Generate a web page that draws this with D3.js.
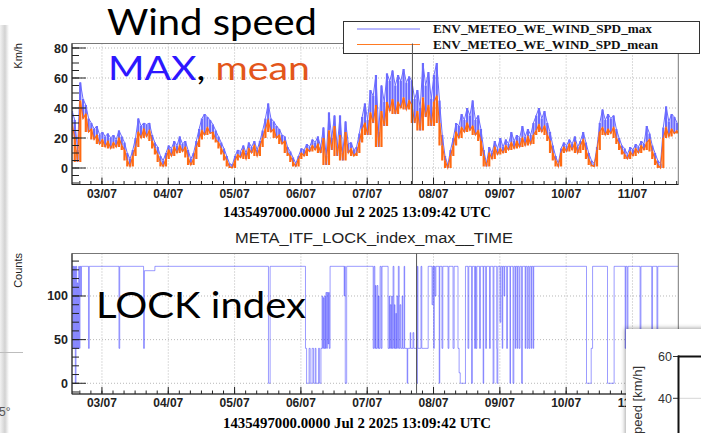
<!DOCTYPE html>
<html><head><meta charset="utf-8">
<script src="https://cdn.jsdelivr.net/npm/d3@7"></script>
<style>html,body{margin:0;padding:0;background:#fff;overflow:hidden}svg{display:block}</style>
</head><body>
<svg id="c" width="701" height="433"></svg>
<script>
// ---------------- DATA ----------------
// hourly samples from 2025-07-02 13:09:42 UTC (hour index 0..219)
const windMax = [
 38,32,12,57,46,42,33,30,26,28,22,24,
 21,23,20,22,19,25,21,17,10,6,12,20,
 33,28,30,29,30,22,17,14,8,5,10,15,
 13,18,15,21,16,18,12,6,10,18,26,33,
 36,34,32,29,25,21,17,13,8,3,2,8,
 12,11,15,10,17,14,18,12,18,25,33,43,
 33,31,28,26,22,21,14,11,7,3,8,13,
 12,16,14,19,17,21,14,27,8,37,20,35,
 14,35,10,31,16,17,12,14,23,34,43,32,
 52,48,62,24,55,44,63,58,65,55,62,58,
 66,57,61,58,46,52,40,70,55,64,46,62,
 70,45,22,8,2,12,20,30,28,36,32,40,
 35,45,32,35,26,12,3,14,10,18,13,20,
 14,19,16,24,18,22,20,28,21,26,22,30,
 35,40,33,38,30,24,15,8,3,13,17,15,
 19,16,21,14,18,24,17,10,5,3,14,30,
 39,32,36,33,35,26,20,15,13,9,14,12,
 16,14,18,16,28,23,15,10,5,3,27,41,
 31,36,34,30];
const windMean = [
 30,20,4,45,33,36,24,26,19,22,16,19,
 14,18,13,17,14,20,15,12,5,1,8,14,
 24,20,26,21,25,18,13,9,4,1,6,12,
 8,14,10,15,11,14,7,2,6,14,19,25,
 22,27,23,24,19,17,13,9,5,1,0,5,
 9,7,12,6,13,10,15,8,14,20,26,32,
 24,26,20,22,16,18,10,8,4,1,6,10,
 8,13,11,15,12,16,10,20,2,25,12,28,
 8,22,5,24,10,13,8,10,17,26,30,22,
 37,30,42,14,38,28,44,38,46,36,44,40,
 47,39,45,42,30,38,25,47,34,42,28,44,
 48,30,15,5,0,8,15,24,20,27,24,30,
 25,28,22,25,18,8,1,10,6,14,9,13,
 10,15,12,17,13,18,14,20,15,21,16,22,
 25,29,24,28,22,18,10,5,1,10,14,11,
 16,12,17,10,15,19,12,6,2,1,12,24,
 27,22,26,23,27,20,16,12,9,6,11,8,
 13,10,15,12,17,19,11,6,2,0,20,27,
 21,26,23,25];

// LOCK index step changes: hours since start, value
const lockHours = [0,0.25,0.47,0.72,0.98,1.19,1.45,1.70,1.92,2.17,2.43,2.64,2.90,3.15,3.44,5.97,6.26,17.0,17.27,25.9,26.2,30.0,71.1,71.7,
 84.5,84.9,85.8,86.2,86.9,87.4,88.0,88.3,89.2,89.6,90.1,90.5,90.75,90.97,91.2,91.5,91.7,91.9,92.2,92.4,92.7,92.9,93.1,93.4,
 98.5,98.7,98.9,99.4,109.0,109.3,109.6,109.8,110.0,110.4,110.7,110.9,111.1,111.5,111.9,112.2,114.4,114.8,115.0,115.2,115.5,115.7,115.9,
 116.2,116.5,116.7,116.9,117.2,117.4,117.6,117.9,118.1,118.4,118.7,119.0,119.5,119.7,120.2,120.4,121.3,121.5,122.4,122.6,123.4,123.7,
 124.7,125.0,125.2,126.3,126.6,128.9,130.3,130.6,130.9,131.1,131.4,131.7,132.9,133.1,133.9,134.2,136.1,136.4,137.9,138.3,139.7,140.1,140.5,
 142.4,143.3,143.6,144.6,144.9,145.7,146.0,146.2,146.5,147.5,147.8,148.8,149.0,149.7,150.0,151.1,151.4,152.4,152.7,153.7,153.8,154.1,
 154.9,155.2,155.7,155.9,156.4,156.6,157.3,157.6,158.5,158.7,159.6,159.9,160.4,160.6,161.1,161.3,161.8,162.1,162.7,163.0,164.0,164.2,
 164.7,165.0,165.4,165.7,166.2,166.4,166.9,167.1,186.2,187.9,188.4,193.8,196.2,200.2,200.4,200.9,201.2,205.6,205.9,209.8,210.1,211.7,212.0,219.4];
const lockValues = [134,40,134,40,134,0,134,40,115,40,134,40,134,100,134,40,134,40,134,40,129,134,0,134,
 40,0,40,0,40,0,40,0,40,0,40,100,40,98,40,100,40,104,40,104,45,104,40,134,
 100,134,0,134,40,134,40,112,40,112,40,100,40,134,40,134,40,100,40,90,40,100,40,
 134,40,90,40,80,40,100,40,134,40,90,40,100,40,134,40,0,40,58,40,58,40,
 0,134,40,134,40,134,90,134,40,134,100,134,0,134,40,134,40,134,40,134,40,12,0,
 134,40,134,0,134,40,134,40,134,40,134,0,134,40,134,40,134,0,134,40,0,134,
 70,134,40,134,100,134,40,134,0,134,0,134,40,134,40,134,40,134,0,134,40,134,
 40,134,40,134,40,134,40,134,0,40,134,0,134,40,134,40,134,40,134,40,134,50,134,134];

const cursorTopHour = 123.2, cursorBottomHour = 124.7;
const windTicks = [0,20,40,60,80];
const lockTicks = [0,50,100];
const insetTicks = [40,60];
const axisTitle = "1435497000.0000 Jul 2 2025 13:09:42 UTC";

// ---------------- SETUP ----------------
const svg = d3.select("#c");
const startMs = Date.UTC(2025,6,2,13,9,42);
const endMs = Date.UTC(2025,6,11,16,35,0);
const HOUR = 3600e3;
const toDate = h => new Date(startMs + h*HOUR);
const L = 72, R = 678.3;
const x = d3.scaleUtc().domain([new Date(startMs), new Date(endMs)]).range([L, R]);
const y1 = d3.scaleLinear().domain([-11, 83]).range([184.5, 43.5]);
const y2 = d3.scaleLinear().domain([-12.3, 148.7]).range([394, 253.5]);

const defs = svg.append("defs");
const grad = defs.append("linearGradient").attr("id","edge");
grad.append("stop").attr("offset",0).attr("stop-color","#f2f2f2");
grad.append("stop").attr("offset",0.55).attr("stop-color","#d2d2d2");
grad.append("stop").attr("offset",1).attr("stop-color","#ffffff");
const sh = defs.append("filter").attr("id","sh").attr("x","-20%").attr("y","-20%").attr("width","140%").attr("height","140%");
sh.append("feDropShadow").attr("dx",-1).attr("dy",-1).attr("stdDeviation",2.2).attr("flood-color","#000").attr("flood-opacity",0.35);
defs.append("clipPath").attr("id","cp1").append("rect").attr("x",L).attr("y",43.5).attr("width",R-L).attr("height",141);
defs.append("clipPath").attr("id","cp2").append("rect").attr("x",L).attr("y",253.5).attr("width",R-L).attr("height",140.5);
defs.append("clipPath").attr("id","cpi").append("rect").attr("x",626).attr("y",329).attr("width",80).attr("height",110);

// page edge on the left
svg.append("rect").attr("x",0).attr("y",25).attr("width",9).attr("height",408).attr("fill","url(#edge)");
svg.append("line").attr("x1",0).attr("x2",23).attr("y1",352.5).attr("y2",352.5).attr("stroke","#bdbdbd");
svg.append("text").attr("x",-1).attr("y",416).attr("font-family","Liberation Sans, Arial").attr("font-size",12).attr("fill","#555").text("5°");

const dayTicks = x.ticks(d3.utcDay.every(1));
const minorX = x.ticks(d3.utcHour.every(4));
const fmt = d3.utcFormat("%d/%m");

function panel(y, majors, top, bottom) {
  const g = svg.append("g");
  g.selectAll(".gx").data(dayTicks).join("line")
    .attr("x1",d=>x(d)).attr("x2",d=>x(d)).attr("y1",top).attr("y2",bottom)
    .attr("stroke","#b8b8b8").attr("stroke-dasharray","1,2");
  g.selectAll(".gy").data(majors).join("line")
    .attr("x1",L).attr("x2",R).attr("y1",d=>y(d)).attr("y2",d=>y(d))
    .attr("stroke","#b8b8b8").attr("stroke-dasharray","1,2");
}
function axes(y, majors, minorStep, top, bottom, labelY) {
  const g = svg.append("g");
  g.append("rect").attr("x",L).attr("y",top).attr("width",R-L).attr("height",bottom-top)
    .attr("fill","none").attr("stroke","#777");
  g.append("line").attr("x1",L).attr("x2",L).attr("y1",top).attr("y2",bottom).attr("stroke","#222");
  g.append("line").attr("x1",L).attr("x2",R).attr("y1",bottom).attr("y2",bottom).attr("stroke","#222");
  const dom = y.domain();
  const minors = d3.range(Math.ceil(dom[0]/minorStep)*minorStep, dom[1], minorStep);
  g.selectAll(".ym").data(minors).join("line")
    .attr("x1",L).attr("x2",L+7).attr("y1",d=>y(d)).attr("y2",d=>y(d)).attr("stroke","#222");
  g.selectAll(".yM").data(majors).join("line")
    .attr("x1",L).attr("x2",L+14).attr("y1",d=>y(d)).attr("y2",d=>y(d)).attr("stroke","#222");
  g.selectAll(".xm").data(minorX).join("line")
    .attr("x1",d=>x(d)).attr("x2",d=>x(d)).attr("y1",bottom).attr("y2",bottom-3.5).attr("stroke","#222");
  g.selectAll(".xM").data(dayTicks).join("line")
    .attr("x1",d=>x(d)).attr("x2",d=>x(d)).attr("y1",bottom).attr("y2",bottom-7).attr("stroke","#222");
  g.selectAll(".yl").data(majors).join("text")
    .attr("x",L-4).attr("y",d=>y(d)).attr("dy","0.36em").attr("text-anchor","end")
    .attr("font-family","Liberation Sans, Arial").attr("font-weight","bold").attr("font-size",12.5)
    .attr("fill","#222").text(d=>d);
  g.selectAll(".xl").data(dayTicks).join("text")
    .attr("x",d=>x(d)).attr("y",labelY).attr("text-anchor","middle")
    .attr("font-family","Liberation Sans, Arial").attr("font-weight","bold").attr("font-size",12)
    .attr("fill","#222").text(d=>fmt(d));
}

// ---------------- TOP: wind ----------------
panel(y1, windTicks, 43.5, 184.5);
const gw = svg.append("g").attr("clip-path","url(#cp1)");
const hrs = windMax.map((d,i)=>i);
const lowOf = (arr,i) => d3.min(arr.slice(Math.max(0,i-1), i+2));
// max series: strokes from the mean up to the max reading in each hour
gw.selectAll(".bm").data(hrs).join("line")
  .attr("x1",i=>x(toDate(i))).attr("x2",i=>x(toDate(i)))
  .attr("y1",i=>y1(Math.min(windMean[i], windMax[i]))).attr("y2",i=>y1(windMax[i]))
  .attr("stroke","#6b6bff").attr("stroke-width",2.2);
const lineW = d3.line().x((d,i)=>x(toDate(i))).y(d=>y1(d));
gw.append("path").attr("d",lineW(windMax)).attr("fill","none").attr("stroke","#6b6bff").attr("stroke-width",1);
// mean series: strokes through the hourly spread of the mean
gw.selectAll(".bo").data(hrs).join("line")
  .attr("x1",i=>x(toDate(i))).attr("x2",i=>x(toDate(i)))
  .attr("y1",i=>y1(lowOf(windMean,i))).attr("y2",i=>y1(windMean[i]))
  .attr("stroke","#ff6a12").attr("stroke-width",2.2);
gw.append("path").attr("d",lineW(windMean)).attr("fill","none").attr("stroke","#ff6a12").attr("stroke-width",1.2);
axes(y1, windTicks, 5, 43.5, 184.5, 198);

svg.append("text").attr("transform","translate(21.5,43) rotate(-90)").attr("text-anchor","end")
  .attr("font-family","Liberation Sans, Arial").attr("font-size",11).attr("fill","#222").text("Km/h");
svg.append("text").attr("x",223).attr("y",217).attr("textLength",268).attr("lengthAdjust","spacingAndGlyphs")
  .attr("font-family","Liberation Serif, Times New Roman").attr("font-weight","bold").attr("font-size",14).text(axisTitle);

// legend
const lg = svg.append("g");
lg.append("rect").attr("x",343.5).attr("y",21.5).attr("width",356).attr("height",32).attr("fill","#fff").attr("stroke","#333");
const legendItems = [{name:"ENV_METEO_WE_WIND_SPD_max", color:"#7070ff", len:219},{name:"ENV_METEO_WE_WIND_SPD_mean", color:"#ff7a22", len:225}];
legendItems.forEach((d,i)=>{
  const yy = 29 + i*15.5;
  lg.append("line").attr("x1",357).attr("x2",420).attr("y1",yy).attr("y2",yy).attr("stroke",d.color).attr("stroke-width",1);
  lg.append("text").attr("x",433).attr("y",yy+4.3).attr("textLength",d.len).attr("lengthAdjust","spacingAndGlyphs")
    .attr("font-family","Liberation Serif, Times New Roman").attr("font-weight","bold").attr("font-size",13).attr("fill","#111").text(d.name);
});
svg.append("line").attr("x1",x(toDate(cursorTopHour))).attr("x2",x(toDate(cursorTopHour))).attr("y1",43.5).attr("y2",184.5)
  .attr("stroke","#555").attr("stroke-width",1);

// ---------------- BOTTOM: lock ----------------
panel(y2, lockTicks, 253.5, 394);
const gl = svg.append("g").attr("clip-path","url(#cp2)");
const segs = [];
for (let i=0;i<lockHours.length-1;i++){
  segs.push({t0:lockHours[i], t1:lockHours[i+1], v0:lockValues[i], v1:lockValues[i]});
  if (lockValues[i+1]!==lockValues[i]) segs.push({t0:lockHours[i+1], t1:lockHours[i+1], v0:lockValues[i], v1:lockValues[i+1]});
}
gl.selectAll("line").data(segs).join("line")
  .attr("x1",d=>x(toDate(d.t0))).attr("x2",d=>x(toDate(d.t1))).attr("y1",d=>y2(d.v0)).attr("y2",d=>y2(d.v1))
  .attr("stroke","#3a3aff").attr("stroke-opacity",0.5).attr("stroke-width",1);
axes(y2, lockTicks, 10, 253.5, 394, 407);
svg.append("line").attr("x1",x(toDate(cursorBottomHour))).attr("x2",x(toDate(cursorBottomHour))).attr("y1",253.5).attr("y2",394)
  .attr("stroke","#555").attr("stroke-width",1);
svg.append("text").attr("transform","translate(21.5,253) rotate(-90)").attr("text-anchor","end")
  .attr("font-family","Liberation Sans, Arial").attr("font-size",11).attr("fill","#222").text("Counts");
svg.append("text").attr("x",223).attr("y",428).attr("textLength",268).attr("lengthAdjust","spacingAndGlyphs")
  .attr("font-family","Liberation Serif, Times New Roman").attr("font-weight","bold").attr("font-size",14).text(axisTitle);
svg.append("text").attr("x",235).attr("y",243).attr("textLength",278).attr("lengthAdjust","spacingAndGlyphs")
  .attr("font-family","Liberation Sans, Arial").attr("font-size",14).attr("fill","#222").text("META_ITF_LOCK_index_max__TIME");

// ---------------- annotations ----------------
const big = "Lato, Noto Sans, sans-serif";
svg.append("text").attr("x",107).attr("y",35).attr("textLength",210).attr("lengthAdjust","spacingAndGlyphs")
  .attr("font-family",big).attr("font-size",36).attr("fill","#000").text("Wind speed");
const t2 = svg.append("text").attr("x",108).attr("y",80).attr("textLength",202).attr("lengthAdjust","spacingAndGlyphs")
  .attr("font-family",big).attr("font-size",32);
t2.append("tspan").attr("fill","#2d17ff").text("MAX");
t2.append("tspan").attr("fill","#000").text(", ");
t2.append("tspan").attr("fill","#e3561b").text("mean");
svg.append("text").attr("x",96).attr("y",318).attr("textLength",210).attr("lengthAdjust","spacingAndGlyphs")
  .attr("font-family",big).attr("font-size",36).attr("fill","#000").text("LOCK index");

// ---------------- inset panel bottom-right ----------------
svg.append("rect").attr("x",626).attr("y",329).attr("width",90).attr("height",120).attr("fill","#fff").attr("filter","url(#sh)");
const gi = svg.append("g").attr("clip-path","url(#cpi)");
const yi = d3.scaleLinear().domain([40,60]).range([398.3,356.5]);
gi.selectAll(".ig").data(insetTicks).join("line").attr("x1",679).attr("x2",701).attr("y1",d=>yi(d)).attr("y2",d=>yi(d)).attr("stroke","#d6d6d6");
gi.selectAll(".it").data(insetTicks).join("line").attr("x1",673).attr("x2",678).attr("y1",d=>yi(d)).attr("y2",d=>yi(d)).attr("stroke","#333");
gi.selectAll(".il").data(insetTicks).join("text").attr("x",672).attr("y",d=>yi(d)).attr("dy","0.36em").attr("text-anchor","end")
  .attr("font-family","Liberation Sans, Arial").attr("font-size",12.5).attr("fill","#333").text(d=>d);
gi.append("line").attr("x1",678.5).attr("x2",678.5).attr("y1",yi(60)-1).attr("y2",440).attr("stroke","#111").attr("stroke-width",2);
gi.append("line").attr("x1",678).attr("x2",705).attr("y1",yi(60)).attr("y2",yi(60)).attr("stroke","#111").attr("stroke-width",2);
gi.append("text").attr("transform","translate(641.5,366) rotate(-90)").attr("text-anchor","end")
  .attr("font-family","Liberation Sans, Arial").attr("font-size",13).attr("fill","#333").text("Wind speed [km/h]");
</script>
</body></html>
